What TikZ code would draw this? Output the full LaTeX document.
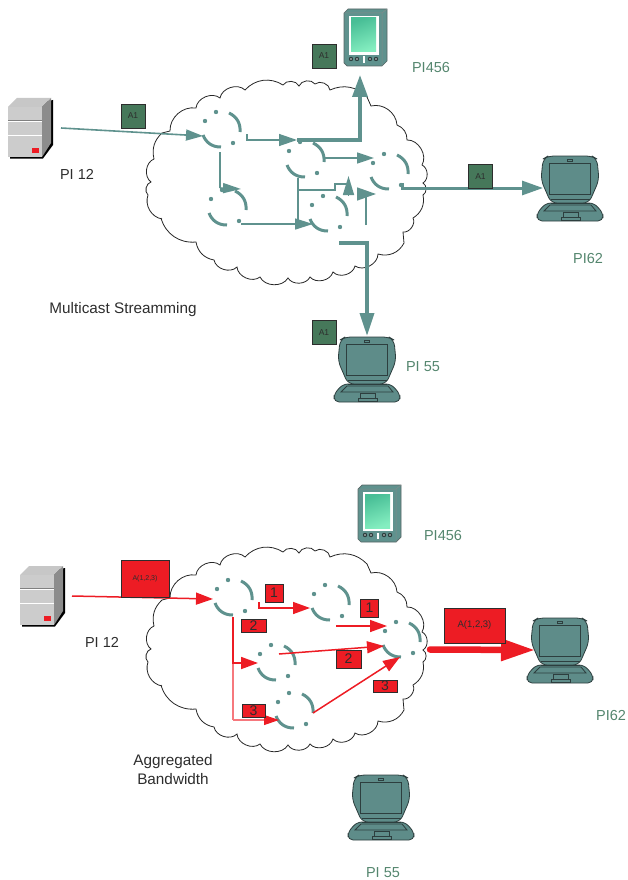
\documentclass[tikz,border=0pt]{standalone}
\usepackage{fontspec}
\setmainfont{Liberation Sans}
\usetikzlibrary{arrows.meta}
\definecolor{netteal}{RGB}{95, 146, 142}
\definecolor{devteal}{RGB}{94, 140, 137}
\definecolor{devline}{RGB}{45, 62, 62}
\definecolor{pktgreen}{RGB}{70, 120, 90}
\definecolor{labelgreen}{RGB}{84, 134, 110}
\definecolor{netred}{RGB}{237, 28, 36}
\definecolor{softred}{RGB}{246, 120, 125}
\definecolor{textgray}{RGB}{45, 45, 45}
\definecolor{pdadark}{RGB}{72, 190, 150}
\definecolor{pdalight}{RGB}{132, 238, 192}

\begin{document}
\begin{tikzpicture}[
    x=1pt, y=-1pt,
    % text styles
    blacklabel/.style={font=\fontsize{14.5}{17}\selectfont, text=textgray, align=center, inner sep=0pt},
    captionlabel/.style={font=\fontsize{15.3}{19}\selectfont, text=textgray, align=center, inner sep=0pt},
    greenlabel/.style={font=\fontsize{14.5}{17}\selectfont, text=labelgreen, inner sep=0pt},
    % packet boxes
    pktbox/.style={rectangle, draw=textgray, line width=0.9pt, fill=pktgreen, minimum size=24pt,
        inner sep=0pt, font=\fontsize{8.5}{10}\selectfont, text=textgray},
    redbox/.style={rectangle, draw=textgray, line width=0.9pt, fill=netred, inner sep=0pt,
        font=\fontsize{14}{16}\selectfont, text=textgray},
    % connectors
    tealarrow/.style={-{Triangle[length=18pt,width=12pt]}, netteal, line width=1.6pt},
    tealheavy/.style={-{Triangle[length=22pt,width=15pt]}, netteal, line width=3.6pt},
    redarrow/.style={-{Triangle[length=17pt,width=12pt]}, netred, line width=1.5pt},
    % pictures of the devices
    router/.pic={
        \draw[netteal, line width=3pt] (8,-17) to[bend left=35] (19,2);
        \draw[netteal, line width=3pt] (-18,5) to[bend right=35] (0,17);
        \fill[netteal] (-16,-9) circle (2.2) (-5,-18) circle (2.2) (12,13) circle (2.2);
    },
    cloud/.pic={
        \draw[black!85, line width=0.8pt, every to/.style={bend left=62}]
            (162,219) to[bend left=50] (148,195) to (151,182) to (154,159) to[bend left=30] (162,133) -- (170,131)
            to[bend left=50] (196,108) to (220,98) to (245,90) to[bend left=40] (283,85) to (299,86) to (315,84)
            to (330,90) to[bend left=35] (367,97) -- (371,106) to[bend left=50] (397,125) to[bend left=35] (407,140)
            to (422,165) to (423,183) to (423,195) to[bend left=35] (413,218) to (403,232)
            -- (404,243) to[bend left=40] (378,254) to (355,266) to (333,272) to (310,277)
            to (288,278) to (260,277) to (237,267) to (214,260) to[bend left=35] (196,242)
            to[bend left=40] (161,218);
    },
    server/.pic={
        \fill[black] (2,11) -- (45,2) -- (45,47) -- (35,60.5) -- (2,60.5) -- cycle;
        \fill[black!22] (0,9) -- (9,0) -- (43,0) -- (34,9) -- cycle;
        \fill[black!45] (34,9) -- (43,0) -- (43,45) -- (34,59) -- cycle;
        \fill[black!20] (0,9) rectangle (34,59);
        \draw[black!50, line width=0.8pt] (0,22) -- (34,22);
        \draw[white, line width=1pt] (0,23.5) -- (34,23.5) (0,37) -- (34,37);
        \fill[netred] (24,50) rectangle (31,55);
    },
    laptop/.pic={
        \draw[devline, line width=0.8pt, fill=devteal, rounded corners=5pt]
            (-24,47) -- (-33,57) -- (-33,65) -- (33,65) -- (33,57) -- (24,47) -- cycle;
        \draw[devline, line width=0.8pt, fill=devteal, rounded corners=6pt]
            (-19,47) -- (-29,24) -- (-27,3) -- (-22,0) -- (22,0) -- (27,3) -- (29,24) -- (19,47) -- cycle;
        \draw[devline, line width=0.9pt] (-21,7) rectangle (20,38);
        \draw[devline, line width=0.7pt] (-2.5,3.5) rectangle (2.5,5.5);
        \draw[devline, line width=0.7pt] (-19,43) -- (20,43) (-19,47) -- (20,47);
        \draw[devline, line width=0.8pt] (-20,49) -- (21,49) -- (26,55) -- (-26,55) -- cycle;
        \draw[devline, line width=0.7pt, fill=devteal] (-7,56) rectangle (8,61) (-9,61) rectangle (10,64);
    },
    pda/.pic={
        \draw[devline!80, line width=0.7pt, fill=netteal] (0,4) -- (4,0) -- (43,0) -- (43,52) -- (38,57) -- (3,57) -- (0,54) -- cycle;
        \draw[devline!60, line width=0.5pt] (0,4) -- (38,4) -- (38,57) (38,4) -- (43,0);
        \fill[white] (5,7) rectangle (35,46);
        \shade[left color=pdadark, right color=pdalight, shading angle=20] (7,9) rectangle (32,43);
        \fill[devline] (7,50) circle (2.2) (13,50) circle (2.2) (26,50) circle (2.2) (32,50) circle (2.2);
        \fill[white!85!black] (7,50) circle (0.9) (13,50) circle (0.9) (26,50) circle (0.9) (32,50) circle (0.9);
        \fill[white] (18.5,47.5) rectangle (21,54);
    },
]
\useasboundingbox (0,0) rectangle (627,880);

% ==================== Multicast ====================
\pic at (0,0) {cloud};
\pic at (8,98) {server};
\pic at (344,9) {pda};
\pic at (570,156) {laptop};
\pic at (367,337) {laptop};

\coordinate (rtA) at (221,130);
\coordinate (rtB) at (305,160);
\coordinate (rtC) at (389,172);
\coordinate (rtD) at (227,208);
\coordinate (rtE) at (328,214);
\foreach \rt in {rtA, rtB, rtC, rtD, rtE} {\pic at (\rt) {router};}

% connector ends
\coordinate (srcM) at (61,128);
\coordinate (inA) at (203,136);
\coordinate (outA) at (247,134);
\coordinate (turnA) at (247,140);
\coordinate (inB) at (297,140);
\coordinate (cornerB) at (360,140);
\coordinate (pdaIn) at (360,75);
\coordinate (downA) at (220,152);
\coordinate (turnD) at (220,188);
\coordinate (inD) at (241,189);
\coordinate (outD) at (241,224);
\coordinate (inE) at (313,224);
\coordinate (outB) at (298,178);
\coordinate (downB) at (298,224);
\coordinate (branchB) at (298,190);
\coordinate (stepB) at (335,190);
\coordinate (stepC) at (335,184);
\coordinate (stepD) at (348,184);
\coordinate (upBase) at (348.5,195);
\coordinate (upTip) at (348.5,176);
\coordinate (sideB) at (323,158);
\coordinate (inC) at (374,158);
\coordinate (riseE) at (366,225);
\coordinate (riseTop) at (366,194);
\coordinate (riseBase) at (357,194);
\coordinate (riseTip) at (376,194);
\coordinate (outC) at (402,183);
\coordinate (turnC) at (402,188);
\coordinate (lapA) at (543,188);
\coordinate (outE) at (339,243);
\coordinate (turnE) at (367,243);
\coordinate (lapB) at (367,336);

\draw[tealarrow, -{Triangle[length=17pt,width=11pt]}] (srcM) -- (inA);
\draw[tealarrow, line width=1.3pt] (outA) -- (turnA) -- (inB);
\draw[tealheavy, line join=miter] (inB) -- (cornerB) -- (pdaIn);
\draw[netteal, line width=1.5pt] (downA) -- (turnD);
\draw[tealarrow, -{Triangle[length=18pt,width=10pt]}] (turnD) -- (inD);
\draw[tealarrow, -{Triangle[length=18pt,width=11pt]}] (outD) -- (inE);
\draw[netteal, line width=2.4pt] (outB) -- (downB);
\draw[netteal, line width=1.5pt] (branchB) -- (stepB) -- (stepC) -- (stepD);
\draw[tealarrow, -{Triangle[length=19pt,width=11pt]}] (upBase) -- (upTip);
\draw[tealarrow, -{Triangle[length=17pt,width=11pt]}] (sideB) -- (inC);
\draw[netteal, line width=1.5pt] (riseE) -- (riseTop);
\draw[tealarrow, -{Triangle[length=19pt,width=13pt]}] (riseBase) -- (riseTip);
\draw[tealheavy, line width=3pt, -{Triangle[length=21pt,width=14pt]}] (outC) -- (turnC) -- (lapA);
\draw[tealheavy, -{Triangle[length=23pt,width=14pt]}] (outE) -- (turnE) -- (lapB);

\node[pktbox] (pktSrc) at (133,116) {A1};
\node[pktbox] (pktPda) at (324,56) {A1};
\node[pktbox] (pktRight) at (480.5,176.5) {A1};
\node[pktbox] (pktDown) at (324,332.5) {A1};

\node[blacklabel] (lblSrcM) at (77,174) {PI 12};
\node[greenlabel] (lblPdaM) at (431,68) {PI456};
\node[greenlabel] (lblRightM) at (588,259) {PI62};
\node[greenlabel] (lblDownM) at (423,367) {PI 55};
\node[captionlabel] (lblMulti) at (123,310) {Multicast Streamming};

% ==================== Aggregated ====================
\pic at (0,467) {cloud};
\pic at (20,566) {server};
\pic at (358,485) {pda};
\pic at (560,618) {laptop};
\pic at (381,775) {laptop};

\coordinate (rtP) at (233,598);
\coordinate (rtQ) at (330,603);
\coordinate (rtR) at (401,640);
\coordinate (rtS) at (276,663);
\coordinate (rtT) at (294,711);
\foreach \rt in {rtP, rtQ, rtR, rtS, rtT} {\pic at (\rt) {router};}

% connector ends
\coordinate (srcN) at (72,596);
\coordinate (inP) at (213,599);
\coordinate (outP) at (259,602);
\coordinate (turnP) at (259,608);
\coordinate (inQ) at (310,608);
\coordinate (downP) at (233,617);
\coordinate (turnS) at (233,663);
\coordinate (inS) at (258,663);
\coordinate (turnT) at (233,720);
\coordinate (inT) at (279,720);
\coordinate (outQ) at (336,626);
\coordinate (inRa) at (387,626);
\coordinate (outS) at (279,654);
\coordinate (inRb) at (384,646);
\coordinate (outT) at (313,713);
\coordinate (inRc) at (400,657);
\coordinate (outR) at (430,649.5);
\coordinate (lapC) at (535,650);

\draw[redarrow] (srcN) -- (inP);
\draw[redarrow] (outP) -- (turnP) -- (inQ);
\draw[softred, line width=1.1pt] (turnS) -- (turnT);
\draw[redarrow, softred, line width=1.1pt, -{Triangle[length=15pt,width=10pt,fill=netred,color=netred]}] (turnT) -- (inT);
\draw[redarrow, line width=1.8pt] (downP) -- (turnS) -- (inS);
\draw[redarrow] (outQ) -- (inRa);
\draw[redarrow] (outS) -- (inRb);
\draw[redarrow] (outT) -- (inRc);
\draw[netred, line width=6.5pt, line cap=round, -{Triangle[length=34pt,width=21pt]}] (outR) -- (lapC);

\node[redbox, minimum width=48pt, minimum height=37pt, font=\fontsize{7}{8}\selectfont] (pktSrcN) at (145,578.5) {A(1,2,3)};
\node[redbox, minimum width=61pt, minimum height=35pt, font=\fontsize{9.5}{11}\selectfont] (pktLap) at (474.5,625.5) {A(1,2,3)};
\node[redbox, minimum size=18pt] (oneA) at (274,593) {1};
\node[redbox, minimum size=18pt] (oneB) at (369.5,608) {1};
\node[redbox, minimum width=25pt, minimum height=13pt] (twoA) at (253.5,625.5) {2};
\node[redbox, minimum width=25pt, minimum height=18pt] (twoB) at (348.5,659) {2};
\node[redbox, minimum width=23pt, minimum height=13pt] (threeA) at (253.5,710.5) {3};
\node[redbox, minimum width=24pt, minimum height=12pt] (threeB) at (385,686) {3};

\node[blacklabel] (lblSrcN) at (102,642) {PI 12};
\node[greenlabel] (lblPdaN) at (443,536) {PI456};
\node[greenlabel] (lblRightN) at (611,715) {PI62};
\node[greenlabel] (lblDownN) at (383,873) {PI 55};
\node[captionlabel] (lblAggr) at (173,770) {Aggregated\\Bandwidth};

\end{tikzpicture}
\end{document}
